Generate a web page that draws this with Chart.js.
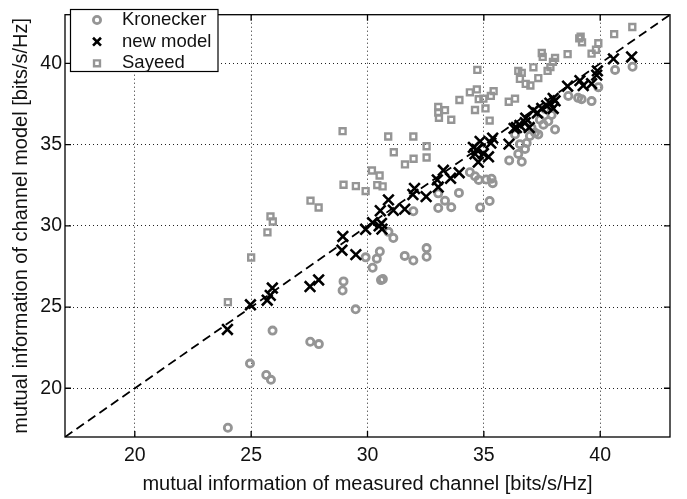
<!DOCTYPE html>
<html>
<head>
<meta charset="utf-8">
<script src="https://cdn.jsdelivr.net/npm/chart.js@4.4.0/dist/chart.umd.min.js"></script>
<style>
    html, body { margin: 0; padding: 0; background: #fff; }
</style>
</head>
<body>
<canvas id="miChart" width="687" height="499"></canvas>
<script>
// axis ticks (both axes use the same range)
const tickValues = [20, 25, 30, 35, 40];
const diagonal = [17, 43];

// Kronecker model
const kronX = [24.0, 24.95, 25.65, 25.85, 25.92, 27.54, 27.91, 28.97, 28.93, 29.49, 29.92, 30.22, 30.4, 30.53, 30.58, 30.66, 30.9, 31.11, 31.6, 31.97,
    31.97, 32.54, 32.54, 33.04, 33.04, 33.33, 33.6, 33.93, 34.4, 34.62, 34.78, 34.84, 35.1, 35.25, 35.33, 35.38, 36.09, 36.48, 36.63, 36.55,
    36.77, 36.84, 36.34, 36.98, 37.05, 37.2, 37.34, 37.41, 37.56, 37.63, 37.77, 37.91, 38.06, 38.63, 39.05, 39.2, 39.63, 39.92, 40.64, 41.39];
const kronY = [17.57, 21.52, 20.82, 20.52, 23.55, 22.86, 22.72, 26.58, 26.02, 24.86, 28.06, 27.42, 27.98, 28.42, 26.66, 26.72, 29.63, 29.25, 28.15, 27.87,
    30.9, 28.63, 28.1, 32.0, 31.1, 31.55, 31.15, 32.03, 33.3, 33.05, 32.83, 31.13, 32.85, 31.53, 32.9, 32.63, 34.03, 34.43, 33.95, 35.03,
    34.73, 35.1, 35.63, 35.53, 36.03, 35.73, 35.63, 36.53, 36.23, 37.2, 36.44, 36.83, 35.93, 38.0, 37.88, 37.8, 37.68, 38.54, 39.6, 39.8];

// new model
const newX = [23.98, 24.97, 25.69, 25.82, 25.91, 27.53, 27.9, 28.9, 28.94, 29.5, 29.92, 30.22, 30.5, 30.6, 30.62, 30.55, 30.9, 31.11, 31.6, 31.95,
    32.02, 32.52, 33.0, 33.04, 33.26, 33.57, 33.94, 34.55, 34.69, 34.62, 34.84, 34.98, 35.2, 34.76, 35.3, 35.38, 36.08, 36.3, 36.4, 36.55,
    36.78, 36.8, 36.95, 37.13, 37.3, 37.49, 37.7, 37.84, 37.98, 38.06, 37.98, 38.6, 39.13, 39.27, 39.63, 39.85, 39.88, 40.57, 41.35];
const newY = [23.62, 25.14, 25.42, 25.72, 26.17, 26.26, 26.67, 28.5, 29.35, 28.23, 29.79, 30.2, 30.0, 30.15, 29.8, 30.93, 31.6, 30.96, 31.03, 31.93,
    32.3, 31.8, 32.83, 32.39, 33.42, 32.93, 33.27, 34.83, 34.7, 34.43, 35.2, 34.45, 34.25, 33.93, 35.1, 35.4, 35.03, 36.0, 36.05, 36.18,
    36.35, 36.63, 36.05, 37.1, 36.95, 37.23, 37.4, 37.55, 37.85, 37.7, 37.23, 38.6, 38.94, 38.64, 38.75, 39.28, 39.54, 40.28, 40.4];

// Sayeed model
const sayX = [24.0, 25.0, 25.7, 25.83, 25.93, 27.55, 27.9, 28.93, 28.97, 29.5, 29.92, 30.19, 30.52, 30.42, 30.65, 30.89, 31.13, 31.61, 31.97, 31.98,
    32.54, 32.54, 33.04, 33.04, 33.07, 33.33, 33.6, 33.95, 34.4, 34.62, 34.7, 34.72, 34.78, 34.98, 35.07, 35.25, 35.3, 35.42, 36.07, 36.34,
    36.48, 36.55, 36.63, 36.8, 37.0, 37.13, 37.34, 37.49, 37.53, 37.74, 37.86, 37.97, 38.06, 38.6, 39.1, 39.16, 39.22, 39.63, 39.82, 39.92,
    40.6, 41.38];
const sayY = [25.3, 28.05, 29.6, 30.58, 30.27, 31.55, 31.13, 35.83, 32.53, 32.45, 32.14, 33.41, 33.1, 32.51, 32.43, 35.5, 34.53, 33.78, 35.5, 34.13,
    34.9, 34.21, 37.32, 36.98, 36.65, 37.12, 36.53, 37.75, 38.22, 37.13, 38.4, 39.6, 37.8, 37.83, 37.23, 36.48, 38.0, 38.29, 37.64, 37.83,
    39.54, 39.05, 39.42, 38.74, 38.64, 39.76, 39.1, 40.64, 40.4, 39.54, 39.77, 40.1, 40.34, 40.57, 41.54, 41.64, 41.3, 40.6, 40.84, 41.24,
    41.8, 42.24];

const FONT = '"Liberation Sans", Arial, Helvetica, sans-serif';
const GREY = '#959595';

function toPoints(xs, ys) {
    return xs.map((x, i) => ({ x: x, y: ys[i] }));
}

// frame, inward ticks and the legend box (matlab look)
const framePlugin = {
    id: 'frame',
    afterDraw(chart) {
        const { ctx, chartArea: a, scales } = chart;
        ctx.save();
        ctx.strokeStyle = '#000';
        ctx.lineWidth = 1.3;
        ctx.strokeRect(a.left, a.top, a.right - a.left, a.bottom - a.top);

        ctx.beginPath();
        tickValues.forEach(v => {
            const px = scales.x.getPixelForValue(v);
            const py = scales.y.getPixelForValue(v);
            ctx.moveTo(px, a.bottom); ctx.lineTo(px, a.bottom - 6);
            ctx.moveTo(px, a.top); ctx.lineTo(px, a.top + 6);
            ctx.moveTo(a.left, py); ctx.lineTo(a.left + 6, py);
            ctx.moveTo(a.right, py); ctx.lineTo(a.right - 6, py);
        });
        ctx.stroke();

        // legend
        const bx = 70.5, by = 9.5, bw = 147.5, bh = 62;
        ctx.fillStyle = '#fff';
        ctx.fillRect(bx, by, bw, bh);
        ctx.lineWidth = 1.2;
        ctx.strokeRect(bx, by, bw, bh);

        const rows = [20, 41.7, 63.3];
        const mx = 97;
        chart.data.datasets.slice(0, 3).forEach((ds, i) => {
            const cy = rows[i];
            ctx.strokeStyle = ds.pointBorderColor;
            ctx.lineWidth = ds.pointBorderWidth;
            ctx.beginPath();
            if (ds.pointStyle === 'circle') {
                ctx.arc(mx, cy, ds.pointRadius, 0, Math.PI * 2);
            } else if (ds.pointStyle === 'crossRot') {
                const d = ds.pointRadius * Math.SQRT1_2 * 0.75;
                ctx.moveTo(mx - d, cy - d); ctx.lineTo(mx + d, cy + d);
                ctx.moveTo(mx + d, cy - d); ctx.lineTo(mx - d, cy + d);
            } else {
                const s = ds.pointRadius * Math.SQRT1_2;
                ctx.rect(mx - s, cy - s, 2 * s, 2 * s);
            }
            ctx.stroke();
            ctx.fillStyle = '#111';
            ctx.font = '18.5px ' + FONT;
            ctx.textBaseline = 'middle';
            ctx.textAlign = 'left';
            ctx.fillText(ds.label, 122, cy);
        });
        ctx.restore();
    }
};

const ctx = document.getElementById('miChart');
new Chart(ctx.getContext('2d'), {
    type: 'scatter',
    data: {
        datasets: [
            {
                label: 'Kronecker',
                data: toPoints(kronX, kronY),
                pointStyle: 'circle',
                pointRadius: 3.6,
                pointBorderWidth: 2.8,
                pointBorderColor: GREY,
                pointBackgroundColor: 'rgba(0,0,0,0)',
                order: 3
            },
            {
                label: 'new model',
                data: toPoints(newX, newY),
                pointStyle: 'crossRot',
                pointRadius: 7.5,
                pointBorderWidth: 2.6,
                pointBorderColor: '#000',
                pointBackgroundColor: 'rgba(0,0,0,0)',
                order: 1
            },
            {
                label: 'Sayeed',
                data: toPoints(sayX, sayY),
                pointStyle: 'rect',
                pointRadius: 4.2,
                pointBorderWidth: 2.4,
                pointBorderColor: GREY,
                pointBackgroundColor: 'rgba(0,0,0,0)',
                order: 2
            },
            {
                label: 'y = x',
                type: 'line',
                data: toPoints(diagonal, diagonal),
                borderColor: '#000',
                borderWidth: 1.8,
                borderDash: [9, 5],
                pointRadius: 0,
                fill: false,
                order: 0
            }
        ]
    },
    options: {
        responsive: false,
        animation: false,
        events: [],
        layout: { padding: { left: 0, right: 17, top: 4, bottom: 0 } },
        plugins: {
            legend: { display: false },
            tooltip: { enabled: false }
        },
        scales: {
            x: {
                type: 'linear',
                min: 17,
                max: 43,
                afterBuildTicks: axis => { axis.ticks = tickValues.map(v => ({ value: v })); },
                afterFit: axis => { axis.height = 62; },
                grid: { color: '#222', lineWidth: 1, drawTicks: false },
                border: { display: false, dash: [1, 3] },
                ticks: { padding: 7, color: '#111', maxRotation: 0, font: { family: FONT, size: 19.5 } },
                title: {
                    display: true,
                    text: 'mutual information of measured channel [bits/s/Hz]',
                    color: '#111',
                    font: { family: FONT, size: 20 },
                    padding: { top: 0, bottom: 3 }
                }
            },
            y: {
                type: 'linear',
                min: 17,
                max: 43,
                afterBuildTicks: axis => { axis.ticks = tickValues.map(v => ({ value: v })); },
                afterFit: axis => { axis.width = 65; },
                grid: { color: '#222', lineWidth: 1, drawTicks: false },
                border: { display: false, dash: [1, 3] },
                ticks: { padding: 3, color: '#111', font: { family: FONT, size: 19.5 } },
                title: {
                    display: true,
                    text: 'mutual information of channel model [bits/s/Hz]',
                    color: '#111',
                    font: { family: FONT, size: 20 },
                    padding: { top: 9, bottom: 0 }
                }
            }
        }
    },
    plugins: [framePlugin]
});
</script>
</body>
</html>
